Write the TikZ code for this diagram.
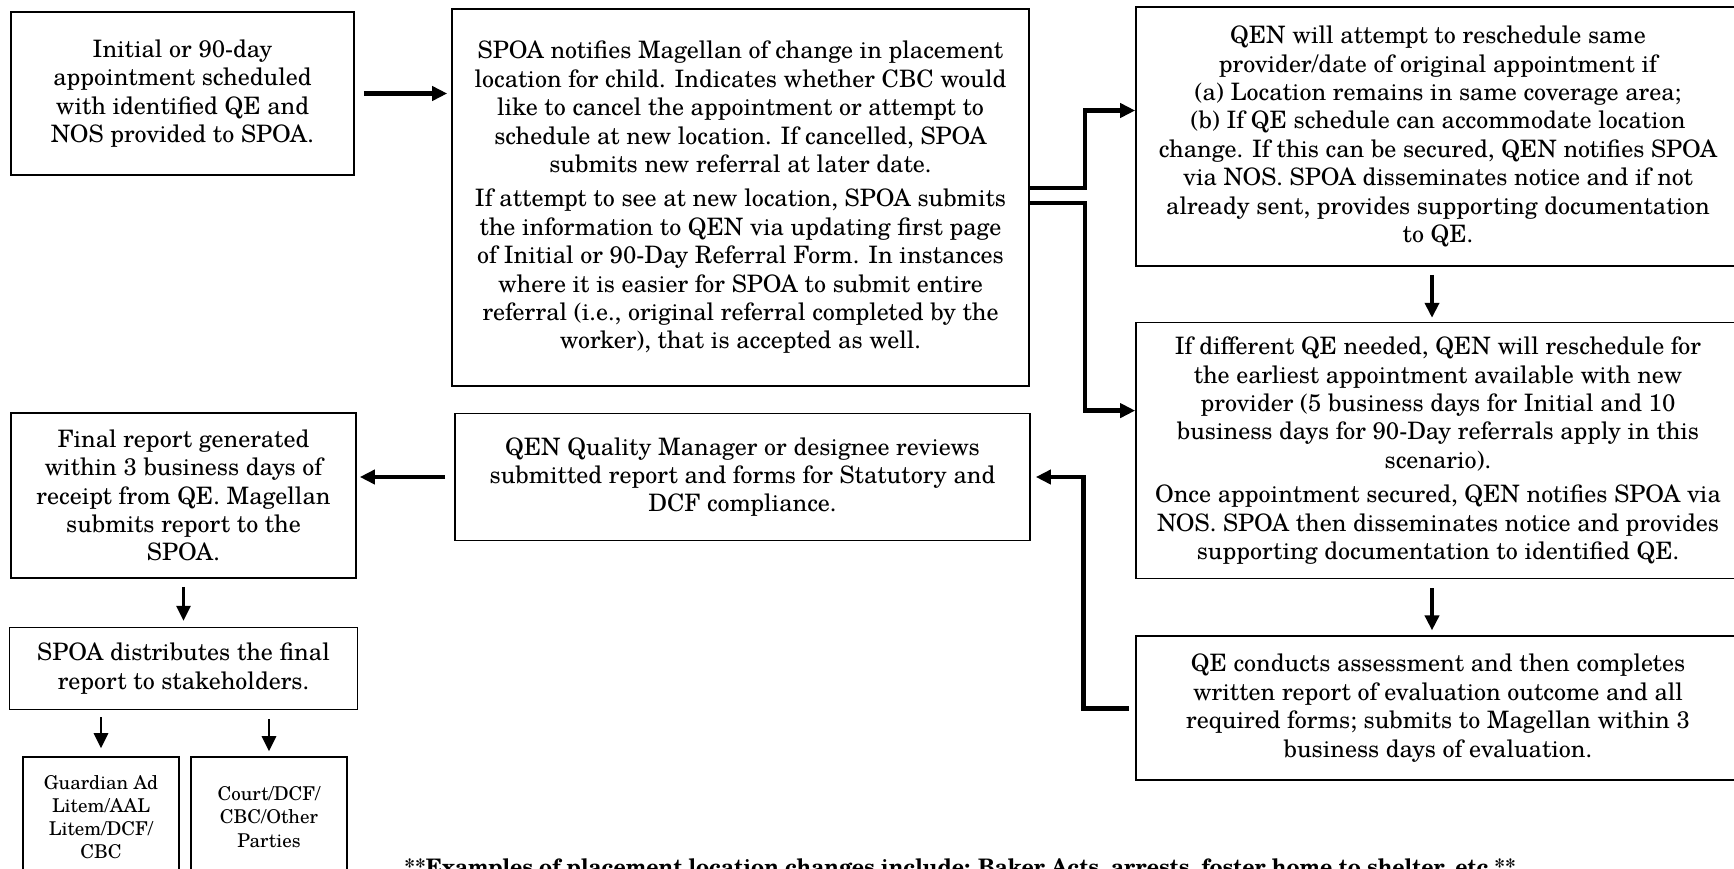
\documentclass[tikz,border=0pt]{standalone}
\usepackage{fontspec}
\setmainfont{TeX Gyre Schola}
\usetikzlibrary{arrows.meta, positioning}

\begin{document}
\begin{tikzpicture}[x=0.5pt, y=-0.5pt, >={Triangle[length=7.5pt, width=7pt]},
		box/.style={draw, line width=0.8pt, align=center, inner sep=2pt, font=\fontsize{12}{14.2}\selectfont},
		leaf/.style={draw, line width=0.8pt, align=center, inner sep=2pt, font=\fontsize{9.5}{11.6}\selectfont, minimum width=78pt, minimum height=60pt},
		arr/.style={->, line width=2.3pt},
		arrsmall/.style={->, line width=1.4pt}]

		\useasboundingbox (0,0) rectangle (1734,868);

		\node[box, minimum width=171.5pt, minimum height=81.5pt] (1) at (182.5,93.5) {Initial or 90-day\\appointment scheduled\\with identified QE and\\NOS provided to SPOA.};
		\node[box, minimum width=288.5pt, minimum height=188.5pt] (2) at (740.5,197.5) {SPOA notifies Magellan of change in placement\\location for child. Indicates whether CBC would\\like to cancel the appointment or attempt to\\schedule at new location. If cancelled, SPOA\\submits new referral at later date.\\[3pt]If attempt to see at new location, SPOA submits\\the information to QEN via updating first page\\of Initial or 90-Day Referral Form. In instances\\where it is easier for SPOA to submit entire\\referral (i.e., original referral completed by the\\worker), that is accepted as well.};
		\node[box, minimum width=302pt, minimum height=129.5pt] (3) at (1438,136.5) {QEN will attempt to reschedule same\\provider/date of original appointment if\\(a) Location remains in same coverage area;\\(b) If QE schedule can accommodate location\\change. If this can be secured, QEN notifies SPOA\\via NOS. SPOA disseminates notice and if not\\already sent, provides supporting documentation\\to QE.};
		\node[box, minimum width=302pt, minimum height=128pt] (4) [below=27.5pt of 3] {If different QE needed, QEN will reschedule for\\the earliest appointment available with new\\provider (5 business days for Initial and 10\\business days for 90-Day referrals apply in this\\scenario).\\[3pt]Once appointment secured, QEN notifies SPOA via\\NOS. SPOA then disseminates notice and provides\\supporting documentation to identified QE.};
		\node[box, minimum width=302pt, minimum height=72pt] (5) [below=28pt of 4] {QE conducts assessment and then completes\\written report of evaluation outcome and all\\required forms; submits to Magellan within 3\\business days of evaluation.};
		\node[box, minimum width=287.5pt, minimum height=63.5pt] (6) at (742.5,477) {QEN Quality Manager or designee reviews\\submitted report and forms for Statutory and\\DCF compliance.};
		\node[box, minimum width=172.5pt, minimum height=82.5pt] (7) at (183.5,495.5) {Final report generated\\within 3 business days of\\receipt from QE. Magellan\\submits report to the\\SPOA.};
		\node[box, minimum width=174pt, minimum height=41pt] (8) [below=24pt of 7] {SPOA distributes the final\\report to stakeholders.};
		\node[leaf] (9) at (101,817) {Guardian Ad\\Litem/AAL\\Litem/DCF/\\CBC};
		\node[leaf] (10) at (269,817) {Court/DCF/\\CBC/Other\\Parties};

		\node[anchor=base west, inner sep=0pt, font=\bfseries\fontsize{10.7}{13}\selectfont] (note) at (404,874) {**Examples of placement location changes include: Baker Acts, arrests, foster home to shelter, etc.**};

		% straight arrows
		\path[arr]
		(1.east) edge[shorten <=4.5pt, shorten >=2pt] (1.east -| 2.west)
		([xshift=-3pt]3.south) edge[shorten <=4pt, shorten >=2pt] ([xshift=-3pt]4.north)
		([xshift=-3pt]4.south) edge[shorten <=4.5pt, shorten >=2.5pt] ([xshift=-3pt]5.north)
		(6.west) edge[shorten <=4.5pt, shorten >=1.5pt] (6.west -| 7.east);
		\path[arrsmall]
		(7.south) edge[shorten <=4pt, shorten >=3pt] (8.north)
		(8.south -| 9.north) edge[shorten <=3.5pt, shorten >=4pt] (9.north)
		(8.south -| 10.north) edge[shorten <=4.5pt, shorten >=2.5pt] (10.north);

		% elbow connectors
		\draw[arr] ([yshift=4.75pt]2.east) -- ++(27.5pt,0) |- ([yshift=13pt]3.west);
		\draw[arr] ([yshift=-2.75pt]2.east) -- ++(27.5pt,0) |- ([yshift=20pt]4.west);
		\draw[arr, shorten <=3pt, shorten >=2.5pt] (5.west) -- ++(-26pt,0) |- (6.east);

\end{tikzpicture}
\end{document}
